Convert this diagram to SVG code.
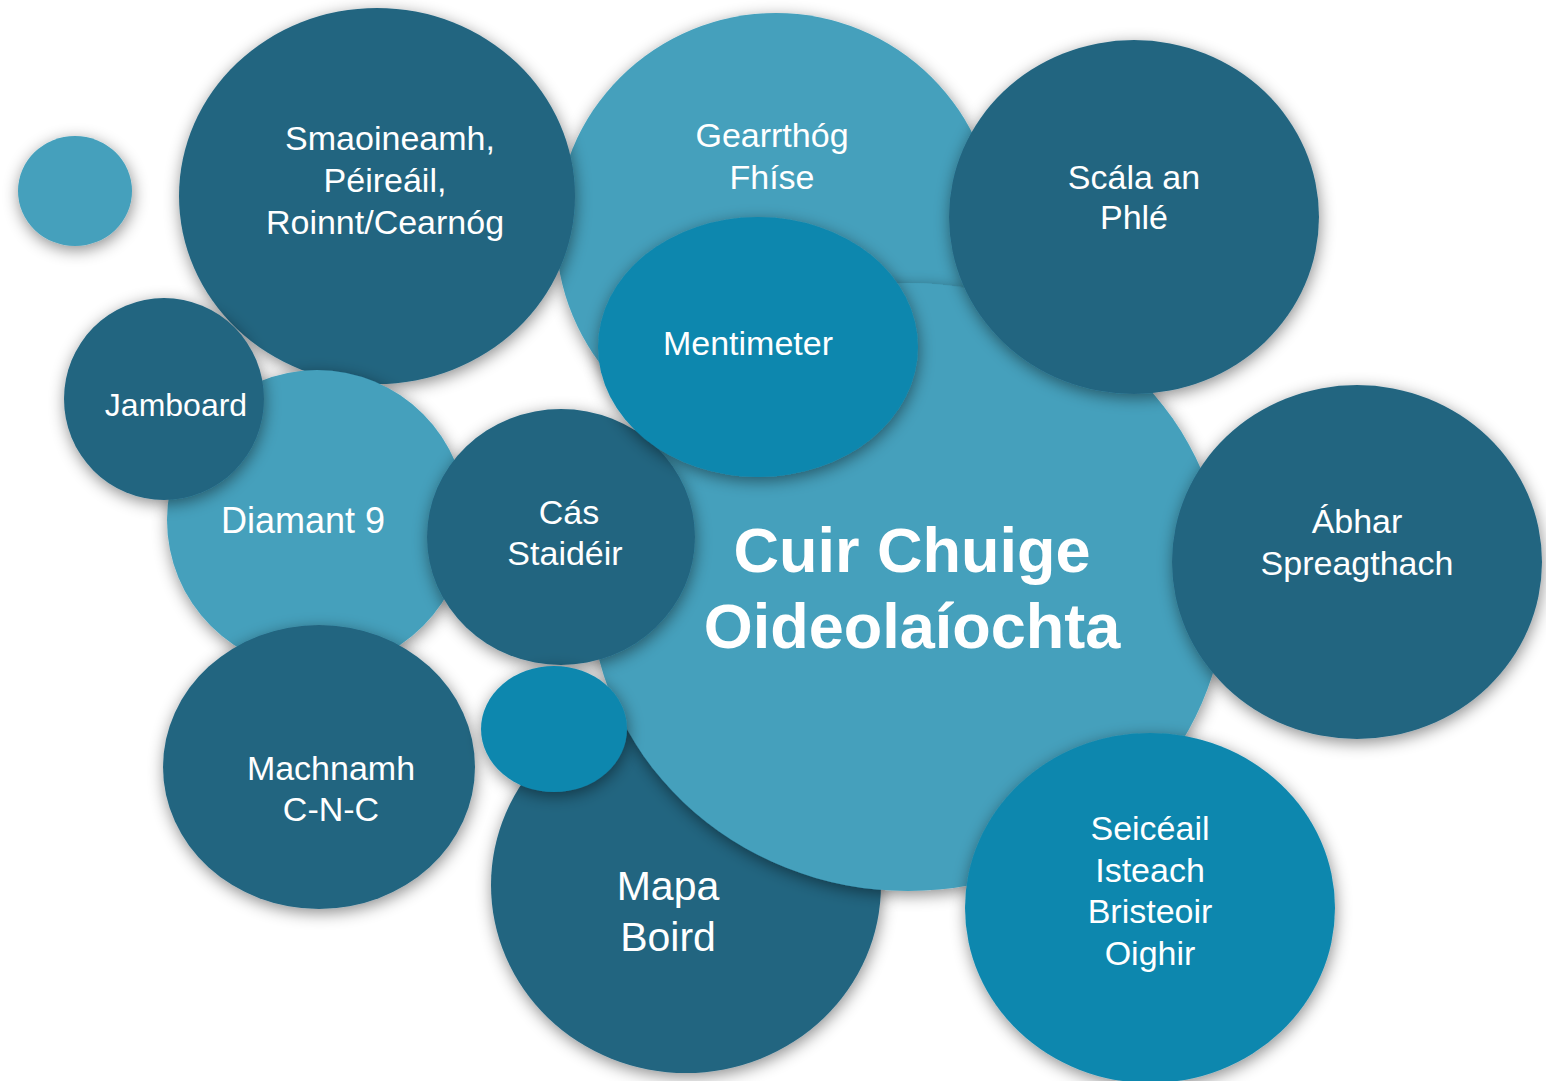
<svg xmlns="http://www.w3.org/2000/svg" width="1546" height="1081" viewBox="0 0 1546 1081">
  <defs>
    <filter id="sh" x="-20%" y="-20%" width="140%" height="140%">
      <feDropShadow dx="1" dy="4" stdDeviation="8" flood-color="#000" flood-opacity="0.45"/>
    </filter>
    <style>
      .dark { fill: #246580; filter: url(#sh); }
      .light { fill: #44A0BC; filter: url(#sh); }
      .mid { fill: #0E87AE; filter: url(#sh); }
      text { font-family: "Liberation Sans", Arial, sans-serif; fill: #FFFFFF; text-anchor: middle; }
      .t34 { font-size: 34px; }
      .title { font-size: 63px; font-weight: bold; }
    </style>
  </defs>
  <rect width="1546" height="1081" fill="#FFFFFF"/>

  <g id="dot-top-left">
    <ellipse class="light" cx="75" cy="191" rx="57" ry="55"/>
  </g>
  <g id="node-gearrthog">
    <ellipse class="light" cx="776" cy="232" rx="220" ry="219"/>
    <text class="t34" x="772" y="147">Gearrthóg</text>
    <text class="t34" x="772" y="189">Fhíse</text>
  </g>
  <g id="node-smaoineamh">
    <ellipse class="dark" cx="377" cy="196" rx="198" ry="188"/>
    <text class="t34" x="390" y="150">Smaoineamh,</text>
    <text class="t34" x="385" y="192">Péireáil,</text>
    <text class="t34" x="385" y="234">Roinnt/Cearnóg</text>
  </g>
  <g id="node-mapa">
    <ellipse class="dark" cx="686" cy="885" rx="195" ry="188"/>
    <text x="668" y="900" style="font-size:41px">Mapa</text>
    <text x="668" y="951" style="font-size:41px">Boird</text>
  </g>
  <g id="node-center">
    <ellipse class="light" cx="908" cy="587" rx="318" ry="304"/>
    <text class="title" x="912" y="572">Cuir Chuige</text>
    <text class="title" x="912" y="648">Oideolaíochta</text>
  </g>
  <g id="node-diamant">
    <ellipse class="light" cx="317" cy="520" rx="150" ry="150"/>
    <text x="303" y="533" style="font-size:36px">Diamant 9</text>
  </g>
  <g id="node-jamboard">
    <ellipse class="dark" cx="164" cy="399" rx="100" ry="101"/>
    <text x="176" y="416" style="font-size:32px">Jamboard</text>
  </g>
  <g id="node-machnamh">
    <ellipse class="dark" cx="319" cy="767" rx="156" ry="142"/>
    <text class="t34" x="331" y="780">Machnamh</text>
    <text class="t34" x="331" y="821">C-N-C</text>
  </g>
  <g id="node-cas">
    <ellipse class="dark" cx="561" cy="537" rx="134" ry="128"/>
    <text class="t34" x="569" y="524">Cás</text>
    <text class="t34" x="565" y="565">Staidéir</text>
  </g>
  <g id="dot-middle">
    <ellipse class="mid" cx="554" cy="729" rx="73" ry="63"/>
  </g>
  <g id="node-mentimeter">
    <ellipse class="mid" cx="758" cy="347" rx="160" ry="130"/>
    <text class="t34" x="748" y="355">Mentimeter</text>
  </g>
  <g id="node-scala">
    <ellipse class="dark" cx="1134" cy="217" rx="185" ry="177"/>
    <text class="t34" x="1134" y="189">Scála an</text>
    <text class="t34" x="1134" y="229">Phlé</text>
  </g>
  <g id="node-abhar">
    <ellipse class="dark" cx="1357" cy="562" rx="185" ry="177"/>
    <text class="t34" x="1357" y="533">Ábhar</text>
    <text class="t34" x="1357" y="575">Spreagthach</text>
  </g>
  <g id="node-seiceail">
    <ellipse class="mid" cx="1150" cy="908" rx="185" ry="175"/>
    <text class="t34" x="1150" y="840">Seicéail</text>
    <text class="t34" x="1150" y="882">Isteach</text>
    <text class="t34" x="1150" y="923">Bristeoir</text>
    <text class="t34" x="1150" y="965">Oighir</text>
  </g>
  <g id="connectors"></g>
</svg>
